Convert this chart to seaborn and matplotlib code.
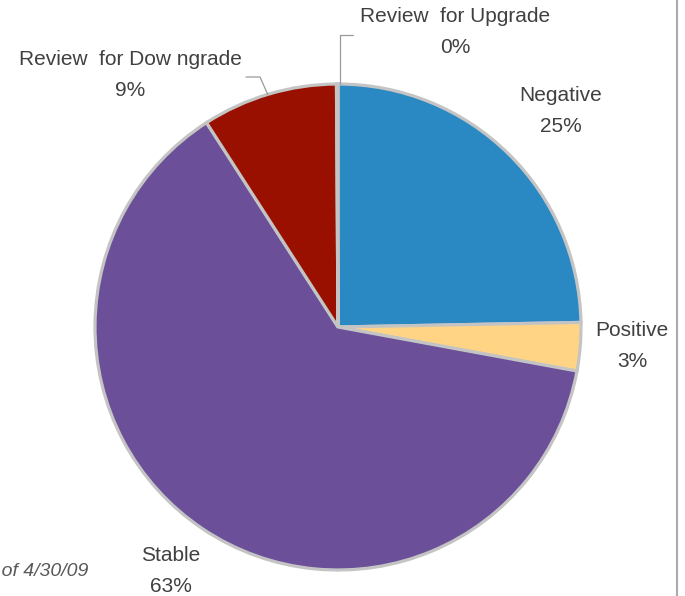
import matplotlib
matplotlib.use("Agg")
import matplotlib.pyplot as plt
import seaborn as sns

categories = ["Negative", "Positive", "Stable", "Review for Downgrade", "Review for Upgrade"]
shares = [24.7, 3.2, 63.0, 9.0, 0.1]
pct_labels = ["25%", "3%", "63%", "9%", "0%"]
colors = ["#2A89C3", "#FFD585", "#6B4F99", "#9A1000", "#2A89C3"]
display_names = ["Negative", "Positive", "Stable", "Review  for Dow ngrade", "Review  for Upgrade"]

sns.set_theme(style="white")
plt.rcParams["font.family"] = ["Liberation Sans", "DejaVu Sans"]

fig = plt.figure(figsize=(6.85, 5.96), dpi=100)
ax = fig.add_axes([0, 0, 1, 1])

wedges, _ = ax.pie(shares, colors=colors, startangle=90, counterclock=False,
                   center=(338, 269), radius=243, frame=True,
                   wedgeprops=dict(edgecolor="#C4C4C4", linewidth=2.3))
ax.set_xlim(0, 685)
ax.set_ylim(0, 596)
ax.set_aspect("equal")
ax.axis("off")

label_pos = [(561, 485), (632, 250), (171, 25), (130, 521), (455, 564)]
for name, pct, (x, y) in zip(display_names, pct_labels, label_pos):
    ax.text(x, y, f"{name}\n{pct}", ha="center", va="center", fontsize=15,
            color="#404040", linespacing=1.75)

# leader lines
ax.plot([340, 340, 353], [512, 561, 561], color="#9A9A9A", lw=0.9)
ax.plot([246, 260, 268], [519, 519, 501], color="#9A9A9A", lw=0.9)

# right border
ax.plot([677, 677], [0, 596], color="#ABABAB", lw=1.5)

ax.text(88, 25, "Data as of 4/30/09", ha="right", va="center", fontsize=14,
        style="italic", color="#595959")

fig.savefig("out.png", dpi=100)
